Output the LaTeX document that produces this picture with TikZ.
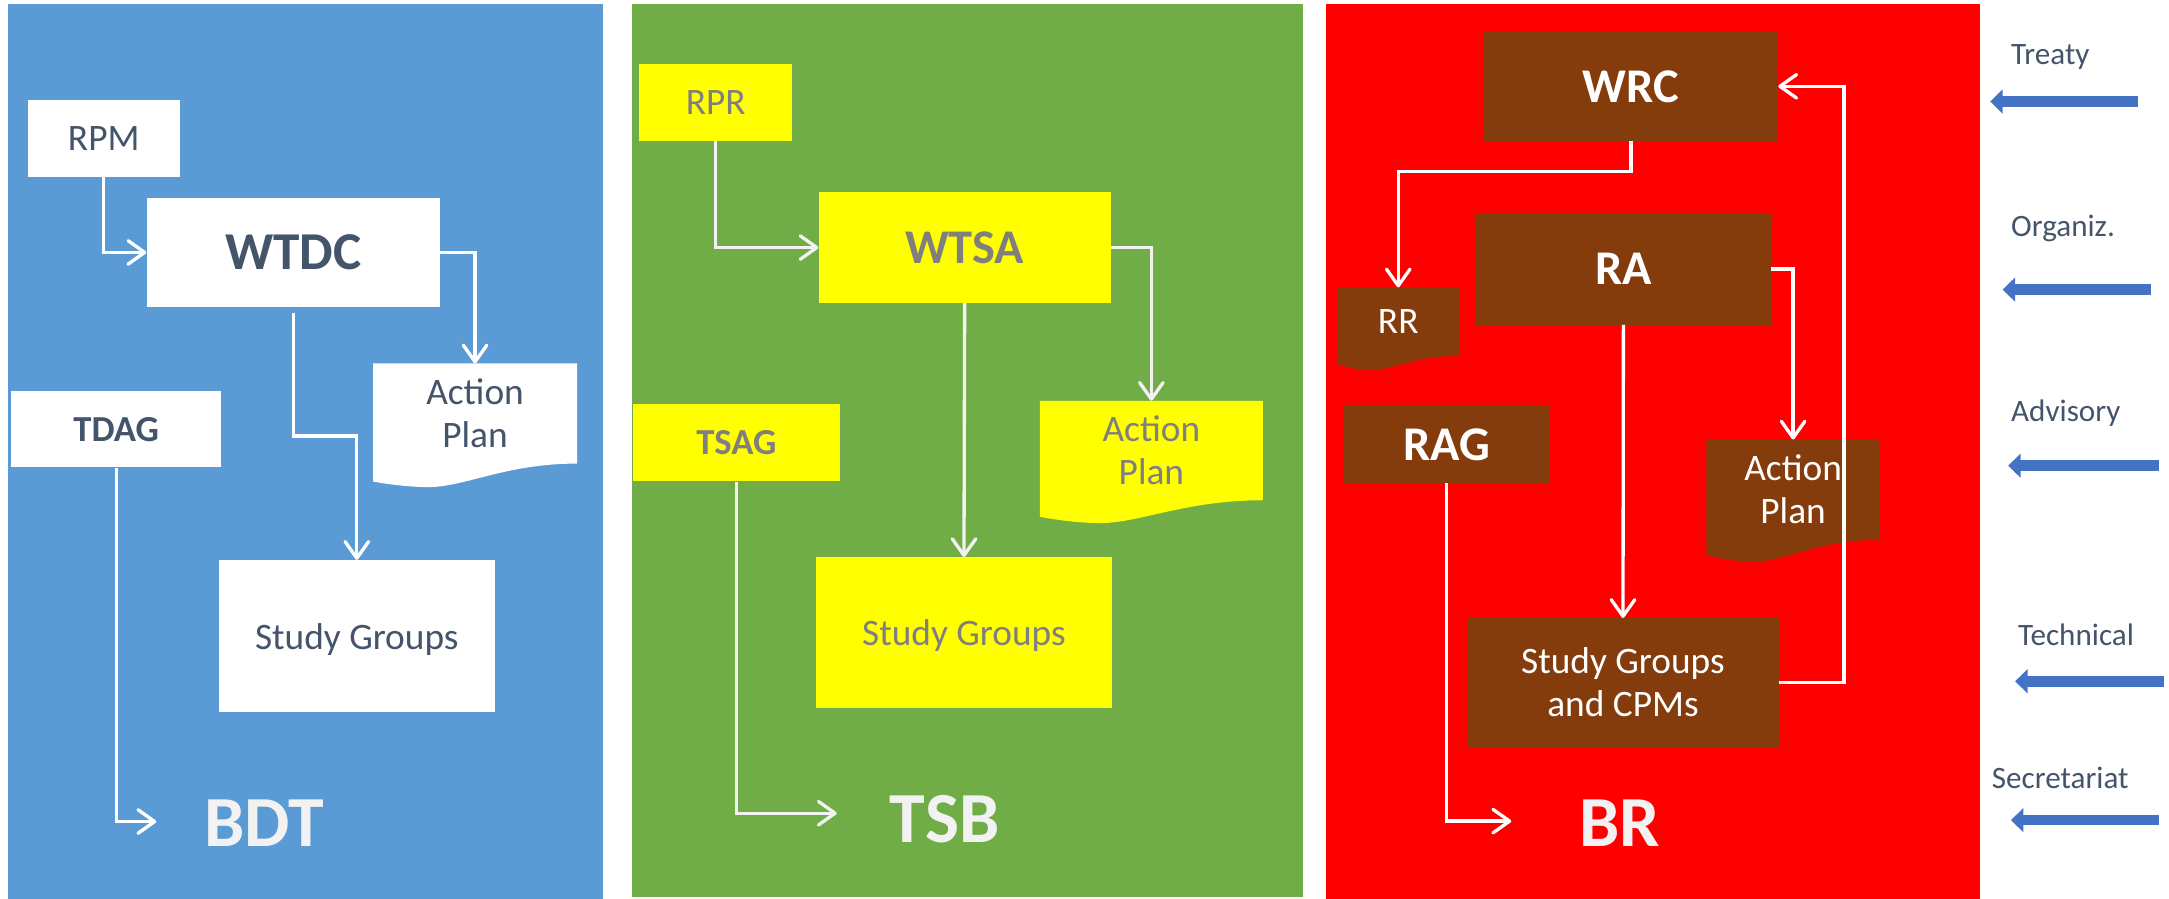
\documentclass[tikz,border=0pt]{standalone}
\usepackage{fontspec}
\setmainfont{Carlito}
\usetikzlibrary{arrows.meta,calc}
\pgfdeclarelayer{bg}
\pgfsetlayers{bg,main}
\definecolor{pblue}{HTML}{5B9BD5}
\definecolor{pgreen}{HTML}{70AD47}
\definecolor{pred}{HTML}{FF0000}
\definecolor{pbrown}{HTML}{843C0C}
\definecolor{pyellow}{HTML}{FFFF00}
\definecolor{slate}{HTML}{44546A}
\definecolor{gtext}{HTML}{7F7F7F}
\definecolor{ltitle}{HTML}{F2F2F2}
\definecolor{barrow}{HTML}{4472C4}
\definecolor{garrow}{HTML}{F2F2F2}
\newcommand\docfill[4]{%
  \begin{pgfonlayer}{bg}
  \fill[#2] (#1.north west) -- (#1.north east) -- (#1.south east)
    .. controls ($(#1.south east)!0.35!(#1.south west)$) and ($(#1.south east)!0.55!(#1.south west)+(0,#4)$) ..
    ($(#1.south east)!0.73!(#1.south west)+(0,#4)$)
    .. controls ($(#1.south east)!0.86!(#1.south west)+(0,#4)$) and ($(#1.south west)+(0,#3)$) ..
    ($(#1.south west)+(0,#3)$) -- cycle;
  \end{pgfonlayer}}
\begin{document}
\begin{tikzpicture}[x=1pt,y=-1pt,
  box/.style={rectangle, inner sep=0pt, align=center},
  reg/.style={font=\fontsize{27}{31}\selectfont},
  big/.style={font=\fontsize{35}{40}\selectfont\bfseries},
  mid/.style={font=\fontsize{26.5}{31}\selectfont\bfseries},
  title/.style={font=\fontsize{52}{60}\selectfont\bfseries, text=ltitle, inner sep=0pt},
  side/.style={font=\fontsize{22.5}{27}\selectfont, text=slate, inner sep=0pt, anchor=base west},
  wbox/.style={box, fill=white, text=slate},
  ybox/.style={box, fill=pyellow, text=gtext},
  rbox/.style={box, fill=pbrown, text=white},
  warr/.style={draw=white, line width=2.4pt, -{Straight Barb[length=12pt,width=17pt,round]}},
  garr/.style={draw=garrow, line width=2.4pt, -{Straight Barb[length=12pt,width=17pt,round]}},
  barr/.style={draw=barrow, line width=7.7pt, -{Triangle[length=9pt,width=17pt]}}
]
\useasboundingbox (0,0) rectangle (1568.3,650);
\begin{pgfonlayer}{bg}
\fill[pblue] (6,3) rectangle (436,650);
\fill[pgreen] (457,3) rectangle (942,648.6);
\fill[pred] (959,3) rectangle (1431.6,650);
\end{pgfonlayer}

% ---------- blue panel ----------
\node[wbox, reg, minimum width=110pt, minimum height=56pt] (rpm) at (75,100) {RPM};
\node[wbox, big, font=\fontsize{38.5}{44}\selectfont\bfseries, minimum width=212pt, minimum height=79pt] (wtdc) at (212,182.5) {WTDC};
\node[box, reg, text=slate, minimum width=147pt, minimum height=72pt] (apB) at (343.5,299) {Action\\Plan};
\docfill{apB}{white}{13}{17}
\node[wbox, reg, text depth=0pt, minimum width=200pt, minimum height=110pt] (sgB) at (258,460) {Study Groups};
\node[wbox, mid, minimum width=152pt, minimum height=55pt] (tdag) at (84,310.5) {TDAG};
\node[title] (bdt) at (191,595) {BDT};
\coordinate (bdtin) at (113,594);
\draw[warr] (rpm.south) |- (wtdc.west);
\draw[warr] (wtdc.east) -| (apB.north);
\draw[warr] ($(wtdc.south)+(0,4)$) -- ++(0,89) -| (sgB.north);
\draw[warr] (tdag.south) |- (bdtin);

% ---------- green panel ----------
\node[ybox, reg, minimum width=111pt, minimum height=56pt] (rpr) at (517.5,74) {RPR};
\node[ybox, big, minimum width=211pt, minimum height=80pt] (wtsa) at (697.5,179) {WTSA};
\node[box, reg, text=gtext, minimum width=161pt, minimum height=71.5pt] (apG) at (832.5,325.75) {Action\\Plan};
\docfill{apG}{pyellow}{12}{16.5}
\node[ybox, reg, text depth=0pt, minimum width=214pt, minimum height=109pt] (sgG) at (697,457.5) {Study Groups};
\node[ybox, mid, minimum width=149pt, minimum height=56pt] (tsag) at (532.5,320) {TSAG};
\node[title] (tsb) at (683,592) {TSB};
\coordinate (tsbin) at (605,588);
\draw[garr] (rpr.south) |- (wtsa.west);
\draw[garr] (wtsa.east) -| (apG.north);
\draw[garr] (wtsa.south) -- (sgG.north);
\draw[garr] (tsag.south) |- (tsbin);

% ---------- red panel ----------
\node[rbox, big, minimum width=212.6pt, minimum height=79.2pt] (wrc) at (1179.3,62.4) {WRC};
\node[rbox, big, minimum width=213.6pt, minimum height=80.7pt] (ra) at (1173.8,194.4) {RA};
\node[box, reg, text=white, minimum width=88pt, minimum height=49pt] (rr) at (1011,232.5) {RR};
\docfill{rr}{pbrown}{6}{10.5}
\node[box, reg, text=white, minimum width=125pt, minimum height=72pt] (apR) at (1296.5,354) {Action\\Plan};
\docfill{apR}{pbrown}{11}{16}
\node[rbox, reg, minimum width=225pt, minimum height=93pt] (sgR) at (1173.5,493.5) {Study Groups\\and CPMs};
\node[rbox, big, minimum width=150pt, minimum height=55.5pt] (rag) at (1046,321.3) {RAG};
\node[title] (br) at (1171,595) {BR};
\coordinate (brin) at (1092.7,593.7);
\draw[warr] (wrc.south) -- ++(0,22) -| (rr.north);
\draw[warr] (ra.east) -| (apR.north);
\draw[warr] (ra.south) -- (sgR.north);
\draw[warr] (sgR.east) -- ++(47,0) |- (wrc.east);
\draw[warr] (rag.south) |- (brin);

% ---------- side labels ----------
\node[side] (treaty) at (1454,46.4) {Treaty};
\node[side] (organiz) at (1454,171) {Organiz.};
\node[side] (advisory) at (1454,304.6) {Advisory};
\node[side] (technical) at (1459,466.5) {Technical};
\node[side] (secretariat) at (1440,570) {Secretariat};
\coordinate (t1) at (1546,73.4);   \coordinate (t0) at (1439,73.4);
\coordinate (o1) at (1555,209.4);  \coordinate (o0) at (1448,209.4);
\coordinate (a1) at (1561,336.7);  \coordinate (a0) at (1452,336.7);
\coordinate (e1) at (1565,492.6);  \coordinate (e0) at (1457,492.6);
\coordinate (s1) at (1561,593);    \coordinate (s0) at (1454,593);
\draw[barr] (t1) -- (t0);
\draw[barr] (o1) -- (o0);
\draw[barr] (a1) -- (a0);
\draw[barr] (e1) -- (e0);
\draw[barr] (s1) -- (s0);
\end{tikzpicture}
\end{document}
